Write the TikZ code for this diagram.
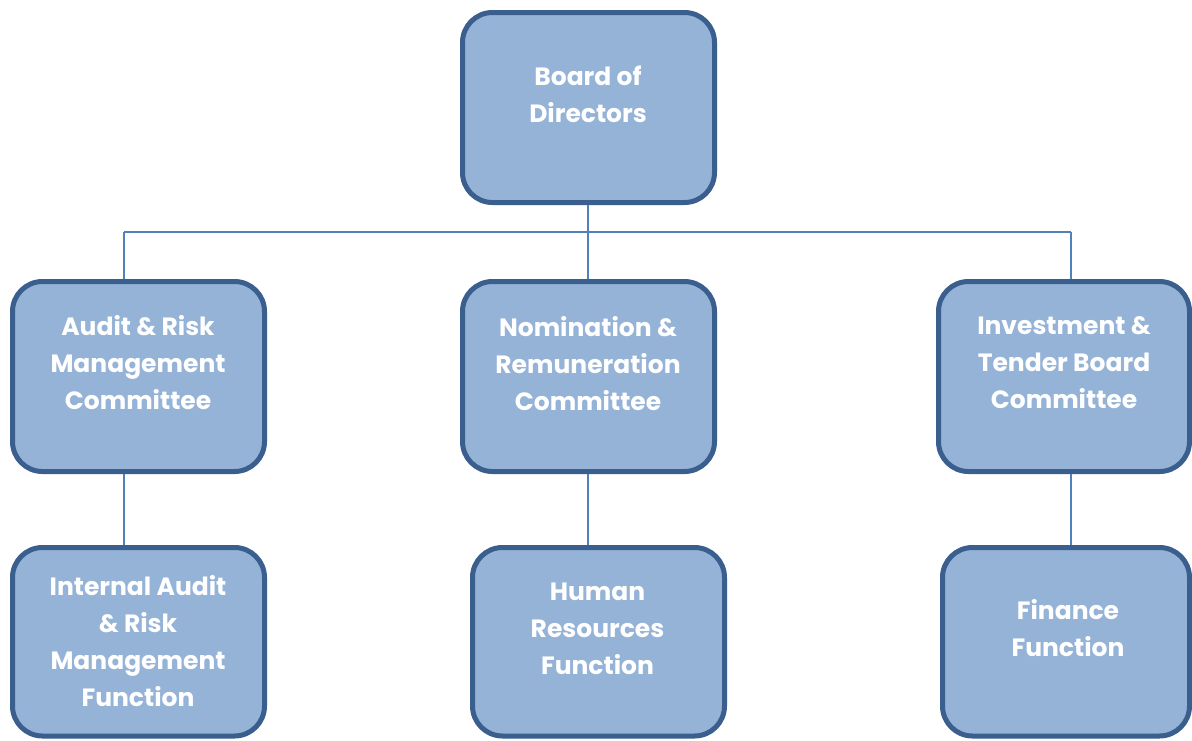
\documentclass[tikz,border=0pt]{standalone}
\usepackage{fontspec}
\setmainfont{Poppins}
\definecolor{boxfill}{HTML}{95B3D7}
\definecolor{boxline}{HTML}{3A5F8E}
\definecolor{connline}{HTML}{4F81BD}
\tikzset{
  box/.style={draw=boxline, fill=boxfill, line width=5pt, rounded corners=30pt, inner sep=0pt},
  lbl/.style={text=white, align=center, anchor=center, inner sep=0pt, font=\bfseries\fontsize{25}{37}\selectfont},
  conn/.style={draw=connline, line width=2pt}
}
\begin{document}
\begin{tikzpicture}[x=1pt, y=-1pt]
\path[fill=white] (0,0) rectangle (1192,740);
\useasboundingbox (0,0) rectangle (1192,740);
\coordinate (jL) at (124,232);
\coordinate (jM) at (588,232);
\coordinate (jR) at (1071,232);
% boxes
\node[box, minimum width=252pt, minimum height=190pt] (board) at (588.5,107.5) {};
\node[box, minimum width=252pt, minimum height=190pt] (audit) at (138.5,376.5) {};
\node[box, minimum width=252pt, minimum height=190pt] (nom) at (588.5,376.5) {};
\node[box, minimum width=251pt, minimum height=190pt] (inv) at (1064,376.5) {};
\node[box, minimum width=252pt, minimum height=188.5pt] (iaud) at (138.5,641.75) {};
\node[box, minimum width=252pt, minimum height=188.5pt] (hr) at (598.5,641.75) {};
\node[box, minimum width=247pt, minimum height=188.5pt] (fin) at (1066,641.75) {};
% connectors
\draw[conn] (jL) -- (jR);
\draw[conn] (board.south -| jM) -- (jM) -- (jM |- nom.north);
\draw[conn] (jL) -- (jL |- audit.north);
\draw[conn] (jR) -- (jR |- inv.north);
\draw[conn] (audit.south -| jL) -- (iaud.north -| jL);
\draw[conn] (nom.south -| jM) -- (hr.north -| jM);
\draw[conn] (inv.south -| jR) -- (fin.north -| jR);
% labels
\node[lbl] (tboard) at (588,94.5) {Board of\\Directors};
\node[lbl] (taudit) at (138,362.5) {Audit \& Risk\\Management\\Committee};
\node[lbl] (tnom) at (588,363.5) {Nomination \&\\Remuneration\\Committee};
\node[lbl] (tinv) at (1064,362.5) {Investment \&\\Tender Board\\Committee};
\node[lbl] (tiaud) at (138,641.5) {Internal Audit\\\& Risk\\Management\\Function};
\node[lbl] (thr) at (597.5,628.5) {Human\\Resources\\Function};
\node[lbl] (tfin) at (1068,628) {Finance\\Function};
\end{tikzpicture}
\end{document}
